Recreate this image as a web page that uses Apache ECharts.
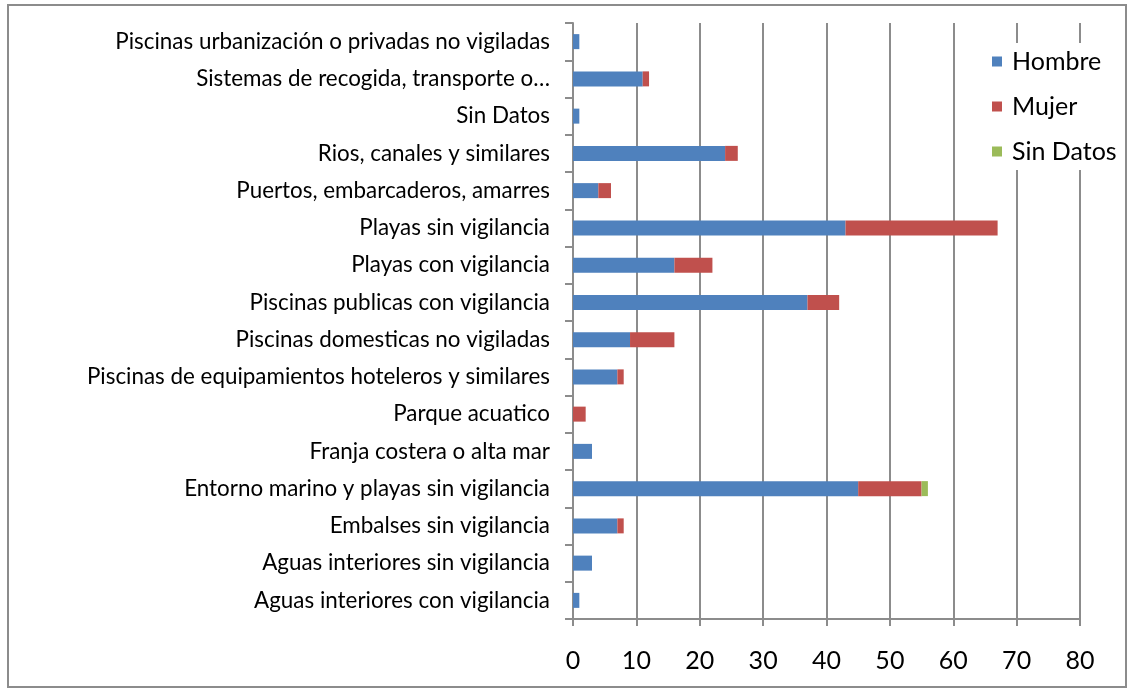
<!DOCTYPE html>
<html>
<head>
<meta charset="utf-8">
<script src="https://cdn.jsdelivr.net/npm/echarts@6/dist/echarts.min.js"></script>
<style>
  html, body { margin: 0; padding: 0; background: #fff; }
  #chart { width: 1134px; height: 692px; }
</style>
</head>
<body>
<div id="chart"></div>
<script>
// categorias, de abajo a arriba
var categorias = [
    "Aguas interiores con vigilancia",
    "Aguas interiores sin vigilancia",
    "Embalses sin vigilancia",
    "Entorno marino y playas sin vigilancia",
    "Franja costera o alta mar",
    "Parque acuatico",
    "Piscinas de equipamientos hoteleros y similares",
    "Piscinas domesticas no vigiladas",
    "Piscinas publicas con vigilancia",
    "Playas con vigilancia",
    "Playas sin vigilancia",
    "Puertos, embarcaderos, amarres",
    "Rios, canales y similares",
    "Sin Datos",
    "Sistemas de recogida, transporte o…",
    "Piscinas urbanización o privadas no vigiladas"
];
var hombre   = [1, 3, 7, 45, 3, 0, 7, 9, 37, 16, 43, 4, 24, 1, 11, 1];
var mujer    = [0, 0, 1, 10, 0, 2, 1, 7, 5, 6, 24, 2, 2, 0, 1, 0];
var sinDatos = [0, 0, 0, 1, 0, 0, 0, 0, 0, 0, 0, 0, 0, 0, 0, 0];
var xTicks = [0, 10, 20, 30, 40, 50, 60, 70, 80];

var fuente = "Lato, 'Open Sans', sans-serif";
var gris = "#8c8c8c";

var myChart = echarts.init(document.getElementById('chart'));
var option = {
    animation: false,
    textStyle: { fontFamily: fuente },
    graphic: [{
        type: 'rect',
        shape: { x: 8, y: 5, width: 1118, height: 682 },
        style: { fill: 'none', stroke: gris, lineWidth: 2 },
        z: -1
    }],
    grid: { left: 573, top: 23, right: 54, bottom: 73 },
    legend: {
        orient: 'vertical',
        left: 986,
        top: 43,
        itemWidth: 10,
        itemHeight: 10,
        itemGap: 20,
        padding: [6, 8, 6, 6],
        backgroundColor: '#fff',
        icon: 'rect',
        textStyle: { fontSize: 25, color: '#000', fontFamily: fuente, padding: [0, 0, 0, 5] },
        data: ['Hombre', 'Mujer', 'Sin Datos']
    },
    xAxis: {
        type: 'value',
        min: xTicks[0],
        max: xTicks[xTicks.length - 1],
        interval: 10,
        axisLine: { show: true, lineStyle: { color: gris, width: 2 } },
        axisTick: { show: true, length: 7, lineStyle: { color: gris, width: 2 } },
        splitLine: { show: true, lineStyle: { color: gris, width: 2 } },
        axisLabel: { fontSize: 25, color: '#000', margin: 29, fontFamily: fuente }
    },
    yAxis: {
        type: 'category',
        data: categorias,
        axisLine: { show: true, lineStyle: { color: gris, width: 2 } },
        axisTick: { show: true, length: 8, lineStyle: { color: gris, width: 2 } },
        axisLabel: { fontSize: 22.4, color: '#000', margin: 23, fontFamily: fuente }
    },
    series: [
        { name: 'Hombre', type: 'bar', stack: 'total', data: hombre, barWidth: 15,
          itemStyle: { color: '#4F81BD' } },
        { name: 'Mujer', type: 'bar', stack: 'total', data: mujer, barWidth: 15,
          itemStyle: { color: '#C0504D' } },
        { name: 'Sin Datos', type: 'bar', stack: 'total', data: sinDatos, barWidth: 15,
          itemStyle: { color: '#9BBB59' } }
    ]
};
myChart.setOption(option);
</script>
</body>
</html>
